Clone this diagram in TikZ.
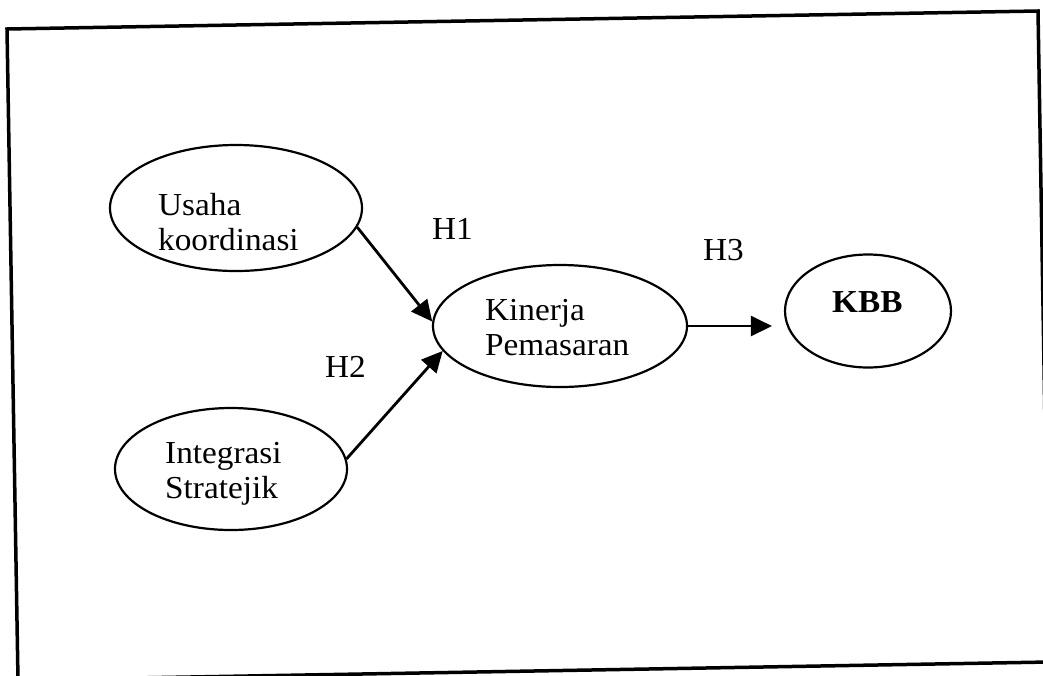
\documentclass[tikz,border=0pt]{standalone}
\usepackage{fontspec}
\setmainfont{Liberation Serif}[FakeStretch=1.04]
\usetikzlibrary{arrows.meta,shapes.geometric}
\begin{document}
\begin{tikzpicture}[x=1pt,y=-1pt,
  oval/.style={draw,ellipse,line width=2.2pt,inner sep=0pt},
  lbl/.style={anchor=base west,inner sep=0pt,font=\fontsize{32}{35}\selectfont},
  link/.style={line width=2.8pt,-{Triangle[length=21pt,width=20pt]}}]
\useasboundingbox (0,0) rectangle (1043,675);
% outer frame (slightly tilted)
\draw[line width=3.5pt,line join=miter] (7,29) -- (1038,11) -- (1049,662) -- (18,680) -- cycle;

% constructs
\node[oval,minimum width=252pt,minimum height=126pt] (usaha) at (236,208) {};
\node[oval,minimum width=254pt,minimum height=122pt] (kin) at (560,326) {};
\node[oval,minimum width=232pt,minimum height=122pt] (integ) at (231,469) {};
\node[oval,minimum width=166pt,minimum height=113pt] (kbb) at (868,311) {};

% construct names
\node[lbl] (usahaA) at (158,215) {Usaha};
\node[lbl] (usahaB) at (158,250) {koordinasi};
\node[lbl] (kinA) at (485,320) {Kinerja};
\node[lbl] (kinB) at (485,355) {Pemasaran};
\node[lbl] (integA) at (165,463) {Integrasi};
\node[lbl] (integB) at (165,498) {Stratejik};
\node[lbl,font=\fontsize{32}{35}\selectfont\bfseries] (kbbA) at (832,312) {KBB};

% hypotheses
\draw[link] (usaha.-9) -- (kin.178);
\draw[link] (integ.5) -- (kin.192);
\draw[link,shorten >=12pt] (kin.east) -- (kin.east -| kbb.west);

\node[lbl] (h1) at (432,239) {H1};
\node[lbl] (h2) at (325,377) {H2};
\node[lbl] (h3) at (703,260) {H3};
\end{tikzpicture}
\end{document}
